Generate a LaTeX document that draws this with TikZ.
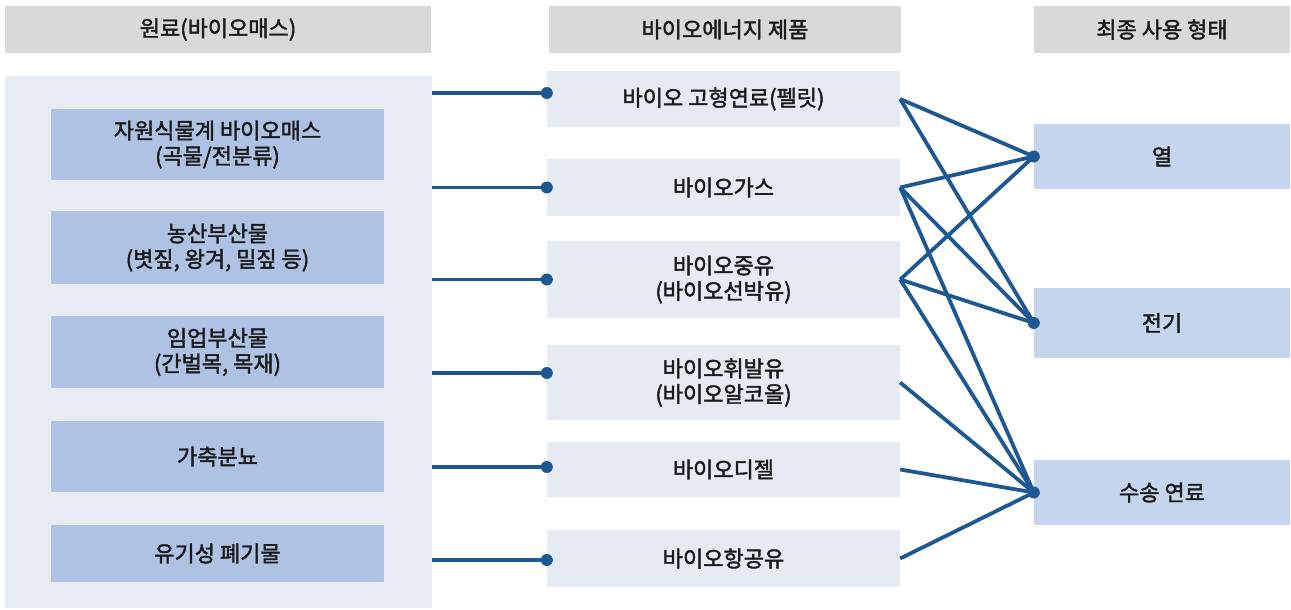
\documentclass[tikz,border=0pt]{standalone}
\usepackage{fontspec}
\newfontfamily\kr{Noto Sans CJK KR}[FakeBold=1.9]
\definecolor{hdrgray}{RGB}{217,217,217}
\definecolor{panelbg}{RGB}{231,236,244}
\definecolor{leftbox}{RGB}{174,195,228}
\definecolor{midbox}{RGB}{230,235,243}
\definecolor{rightbox}{RGB}{198,213,238}
\definecolor{linkblue}{RGB}{30,88,146}
\definecolor{txt}{RGB}{26,26,26}
\tikzset{
  base/.style={inner sep=0pt, align=center, text=txt,
    font=\kr\fontsize{22}{25.5}\selectfont},
  hdr/.style={base, fill=hdrgray, minimum height=47pt},
  lbox/.style={base, fill=leftbox, minimum width=333pt},
  mbox/.style={base, fill=midbox, minimum width=353pt},
  rbox/.style={base, fill=rightbox, minimum width=256pt},
  link/.style={draw=linkblue, line width=3.8pt},
  dot/.style={fill=linkblue}
}
\begin{document}
\begin{tikzpicture}[x=1pt, y=-1pt]
\useasboundingbox (0,0) rectangle (1291,610);
% headers
\node[hdr, minimum width=426pt] (h1) at (218,29.5) {원료(바이오매스)};
\node[hdr, minimum width=352pt] (h2) at (725,29.5) {바이오에너지 제품};
\node[hdr, minimum width=256pt] (h3) at (1162,29.5) {최종 사용 형태};
% left panel
\node[fill=panelbg, minimum width=427pt, minimum height=532pt, inner sep=0pt] (panel) at (218.5,342) {};
\node[lbox, minimum height=71pt] (l1) at (217.5,144.5) {자원식물계 바이오매스\\(곡물/전분류)};
\node[lbox, minimum height=73pt] (l2) at (217.5,247.5) {농산부산물\\(볏짚, 왕겨, 밀짚 등)};
\node[lbox, minimum height=72pt] (l3) at (217.5,352) {임업부산물\\(간벌목, 목재)};
\node[lbox, minimum height=71pt] (l4) at (217.5,456.5) {가축분뇨};
\node[lbox, minimum height=57pt] (l5) at (217.5,553.5) {유기성 폐기물};
% middle boxes
\node[mbox, minimum height=56pt] (m1) at (723.5,99) {바이오 고형연료(펠릿)};
\node[mbox, minimum height=57pt] (m2) at (723.5,187.5) {바이오가스};
\node[mbox, minimum height=77pt] (m3) at (723.5,279.5) {바이오중유\\(바이오선박유)};
\node[mbox, minimum height=75pt] (m4) at (723.5,382.5) {바이오휘발유\\(바이오알코올)};
\node[mbox, minimum height=55pt] (m5) at (723.5,469.5) {바이오디젤};
\node[mbox, minimum height=57pt] (m6) at (723.5,558.5) {바이오항공유};
% right boxes
\node[rbox, minimum height=65pt] (r1) at (1162,156.5) {열};
\node[rbox, minimum height=70pt] (r2) at (1162,323) {전기};
\node[rbox, minimum height=65pt] (r3) at (1162,492.5) {수송 연료};
% left connectors
\foreach \m/\s in {m1/6, m2/0, m3/0, m4/9.5, m5/2.5, m6/-1.5}{
  \coordinate (in-\m) at ([yshift=\s pt]\m.west);
  \draw[link] (panel.east |- in-\m) -- (in-\m);
  \fill[dot] (in-\m) circle (6pt);
}
% right connectors
\foreach \a/\b in {m1/r1, m1/r2, m2/r1, m2/r2, m2/r3, m3/r1, m3/r2, m3/r3, m4/r3, m5/r3, m6/r3}{
  \draw[link, line join=round] (\a.east) -- (\b.west);
}
\foreach \r in {r1,r2,r3}{ \fill[dot] (\r.west) circle (6pt); }
\end{tikzpicture}
\end{document}
